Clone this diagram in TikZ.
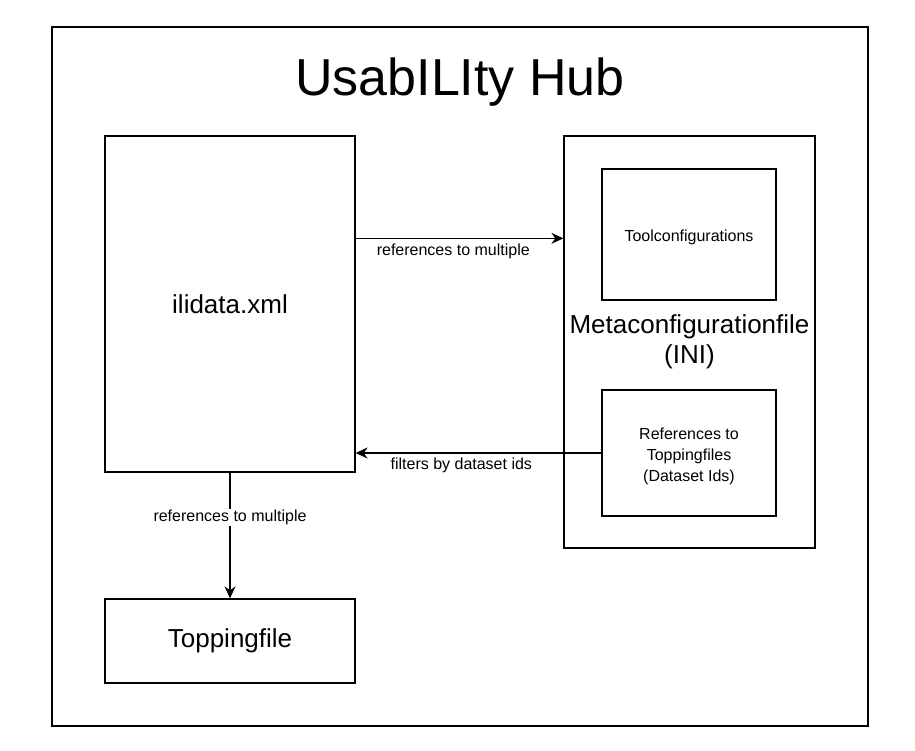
\documentclass[tikz,border=0pt]{standalone}
\usepackage{fontspec}
\setmainfont{Liberation Sans}
\usetikzlibrary{arrows.meta}
\begin{document}
\begin{tikzpicture}[x=1pt,y=-1pt,
  box/.style={draw=black,line width=1.3pt,rectangle,inner sep=0pt,align=center},
  big/.style={font=\fontsize{26}{30}\selectfont},
  small/.style={font=\fontsize{16}{21}\selectfont,align=center,yshift=-3pt},
  arr/.style={draw=black,line width=1.3pt,-{Stealth[length=12pt,width=11pt,inset=4pt]}},
  lbl/.style={font=\fontsize{16}{19}\selectfont,inner sep=1pt,fill=white}]
\useasboundingbox (0,0) rectangle (915,751);
\node[box,minimum width=816pt,minimum height=699pt] (frame) at (460,376.5) {};
\node[font=\fontsize{52}{60}\selectfont] (title) at (460,82) {UsabILIty Hub};
\node[box,big,minimum width=250pt,minimum height=336pt] (ili) at (230,304) {ilidata.xml};
\node[box,big,minimum width=251pt,minimum height=412pt] (meta) at (689.5,342) {Metaconfigurationfile\\(INI)};
\node[box,minimum width=174pt,minimum height=131pt,fill=white,
  label={[small,name=toolt]center:Toolconfigurations}] (tool) at (689,234.5) {};
\node[box,minimum width=174pt,minimum height=126pt,fill=white,
  label={[small,name=refst]center:References to\\Toppingfiles\\(Dataset Ids)}] (refs) at (689,453) {};
\node[box,big,minimum width=250pt,minimum height=84pt] (top) at (230,641) {Toppingfile};
\draw[arr] ([yshift=-103pt]ili.north east) coordinate (a1) -- (meta.west |- a1)
  node[lbl,pos=0.47,anchor=north,yshift=-4pt] (l1) {references to multiple};
\draw[arr] (refs.west) -- (ili.east |- refs.west)
  node[lbl,pos=0.57,anchor=north,yshift=-3pt] (l2) {filters by dataset ids};
\draw[arr] (ili.south) -- (top.north)
  node[lbl,pos=0.34,yshift=-2pt] (l3) {references to multiple};
\end{tikzpicture}
\end{document}
